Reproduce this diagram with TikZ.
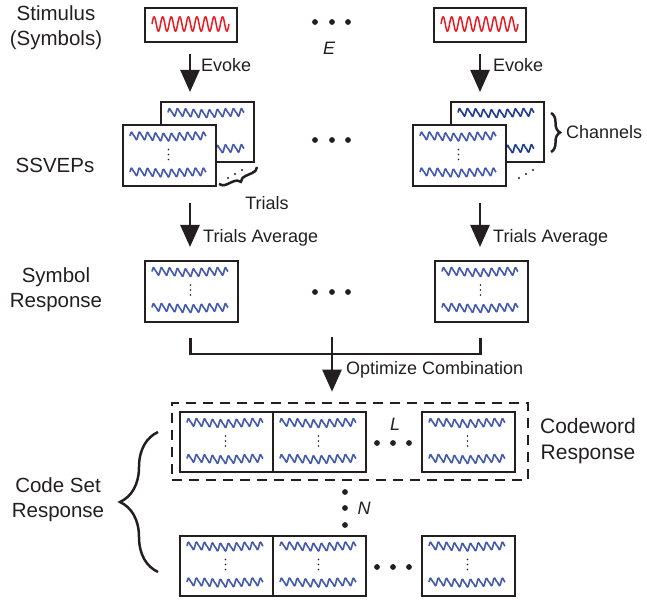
\documentclass[tikz,border=0pt]{standalone}
\usepackage{fontspec}
\setmainfont{Liberation Sans}
\usetikzlibrary{arrows.meta,calc,decorations.pathreplacing}
\definecolor{ink}{RGB}{35,31,32}
\definecolor{wblue}{RGB}{68,90,176}
\definecolor{dblue}{RGB}{30,60,150}
\definecolor{wred}{RGB}{236,28,36}
\newcommand{\bwave}[3]{\draw[wave,#3] plot[domain=0:76,samples=160] ({#1+\x},{#2-3.4*sin(\x/76*3420)-1.0*sin(\x/76*6840)-0.7*sin(\x/76*468+40)});}
\newcommand{\vdt}[2]{\fill[ink] (#1,#2-5) circle (0.9pt) (#1,#2) circle (0.9pt) (#1,#2+5) circle (0.9pt);}
\newcommand{\fillbox}[2]{\begin{scope}[shift={(#1.north west)}]\bwave{8}{12}{#2}\bwave{8}{48}{#2}\vdt{46.5}{30}\end{scope}}
\newcommand{\redwave}[1]{\begin{scope}[shift={(#1.north west)}]\draw[wred,line width=1.5pt,line join=round] plot[domain=0:77,samples=220] ({8+\x},{17-7.2*sin(\x/77*3240)});\end{scope}}
\begin{document}
\begin{tikzpicture}[x=1pt,y=-1pt,
 box/.style={draw=ink,line width=2pt,fill=white,minimum width=93pt,minimum height=61pt,inner sep=0pt},
 cbox/.style={box,minimum height=60pt},
 stimbox/.style={draw=ink,line width=2pt,fill=white,minimum width=92pt,minimum height=34pt,inner sep=0pt},
 wave/.style={line width=1.6pt,line join=round},
 lab/.style={font=\fontsize{20.5}{25}\selectfont,align=center,text=ink,inner sep=0pt},
 alab/.style={font=\fontsize{18}{22}\selectfont,text=ink,inner sep=0pt,anchor=west},
 ilab/.style={font=\fontsize{18}{22}\selectfont\itshape,text=ink,inner sep=0pt},
 bigarr/.style={draw=ink,line width=2.5pt,-{Triangle[length=22pt,width=19pt]}},
 brk/.style={draw=ink,line width=2.5pt},
 brc/.style={draw=ink,line width=2.5pt,decorate,decoration={brace,amplitude=#1}},
]
\useasboundingbox (0,0) rectangle (647,601);

% labels on the left
\node[lab] (lstim) at (56,27.5) {Stimulus\\(Symbols)};
\node[lab] (lssvep) at (55,165) {SSVEPs};
\node[lab] (lsym) at (56,289.5) {Symbol\\Response};
\node[lab] (lcode) at (58,499.5) {Code Set\\Response};

% stimulus boxes
\node[stimbox] (stimL) at (191,25) {};
\node[stimbox] (stimR) at (480,25) {};
\redwave{stimL}
\redwave{stimR}
\fill[ink] (315,22) circle (2.9pt) (332,22) circle (2.9pt) (348,22) circle (2.9pt);
\node[ilab] (E) at (329,48) {E};

% SSVEP stacks (left)
\node[box,minimum height=60pt] (ssvLb) at (207.5,132) {};
\fillbox{ssvLb}{wblue}
\node[box] (ssvLf) at (169.5,156) {};
\fillbox{ssvLf}{wblue}
\fill[ink] (228,178) circle (1.2pt) (235,174) circle (1.2pt) (242,170) circle (1.2pt);
\draw[brc=7pt] (257,167) -- (219,184);
\node[alab,anchor=center] (trials) at (267,203) {Trials};

% SSVEP stacks (right)
\node[box,minimum height=60pt] (ssvRb) at (497.5,132) {};
\fillbox{ssvRb}{dblue}
\node[box] (ssvRf) at (459.5,156) {};
\fillbox{ssvRf}{wblue}
\fill[ink] (519,178) circle (1.2pt) (526,174) circle (1.2pt) (533,170) circle (1.2pt);
\draw[brc=9pt] (551,113) -- (551,152);
\node[alab] (chan) at (566,132) {Channels};
\fill[ink] (315,140) circle (2.9pt) (332,140) circle (2.9pt) (348,140) circle (2.9pt);

% Evoke arrows
\draw[bigarr] ($(stimL.south)+(-1,11)$) -- ($(stimL.south |- ssvLb.north)+(-1,-9)$);
\node[alab] at (201,65) {Evoke};
\draw[bigarr] ($(stimR.south)+(0,11)$) -- ($(stimR.south |- ssvRb.north)+(0,-9)$);
\node[alab] at (493,65) {Evoke};

% symbol response boxes
\node[box] (symL) at (191.5,291.5) {};
\fillbox{symL}{wblue}
\node[box] (symR) at (481.5,291.5) {};
\fillbox{symR}{wblue}
\fill[ink] (315,292) circle (2.9pt) (332,292) circle (2.9pt) (348,292) circle (2.9pt);

% trials average arrows
\draw[bigarr] ($(stimL.south |- ssvLf.south)+(-1,16)$) -- ($(stimL.south |- symL.north)+(-1,-13)$);
\node[alab] at (203,238) {Trials Average};
\draw[bigarr] ($(stimR.south |- ssvRf.south)+(0,16)$) -- ($(stimR.south |- symR.north)+(0,-13)$);
\node[alab] at (493,238) {Trials Average};

% dashed codeword box
\node[draw=ink,dash pattern=on 10pt off 7pt,line width=2.6pt,minimum width=356pt,minimum height=77pt,inner sep=0pt] (cwbox) at (350,441.5) {};

% combination bracket
\draw[brk] ($(symL.south)+(-1,15)$) -- ++(0,16) -| ($(symR.south)+(-1,15)$);
\coordinate (optTop) at (332,337);
\draw[bigarr] (optTop) -- ($(optTop |- cwbox.north)+(0,-10)$);
\node[alab] at (346,370) {Optimize Combination};

% codeword row
\node[cbox] (cw1) at (226.5,442) {};
\node[cbox] (cw2) at (319.5,442) {};
\node[cbox] (cw3) at (468.5,442) {};
\fillbox{cw1}{wblue}
\fillbox{cw2}{wblue}
\fillbox{cw3}{wblue}
\node[ilab] (L) at (395,424) {L};
\fill[ink] (377,443) circle (2.9pt) (393,443) circle (2.9pt) (409,443) circle (2.9pt);
\node[lab,font=\fontsize{21}{26}\selectfont] (lcw) at (588,441) {Codeword\\Response};

% vertical dots N
\fill[ink] (345,492) circle (2.9pt) (345,508) circle (2.9pt) (345,525) circle (2.9pt);
\node[ilab] (N) at (364,508) {N};

% last row
\node[cbox] (cb1) at (226.5,565.5) {};
\node[cbox] (cb2) at (319.5,565.5) {};
\node[cbox] (cb3) at (468.5,565.5) {};
\fillbox{cb1}{wblue}
\fillbox{cb2}{wblue}
\fillbox{cb3}{wblue}
\fill[ink] (377,567) circle (2.9pt) (393,567) circle (2.9pt) (409,567) circle (2.9pt);

% code set brace
\draw[brc=38pt] (158,572) -- (158,432);
\end{tikzpicture}
\end{document}
